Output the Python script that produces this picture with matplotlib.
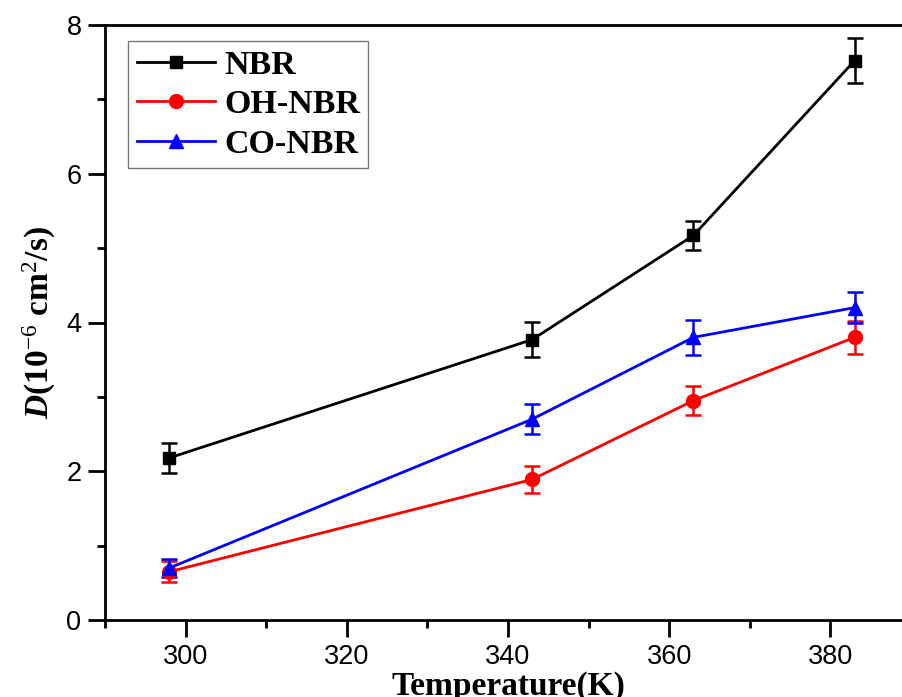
import matplotlib
matplotlib.use("Agg")
import matplotlib.pyplot as plt
from matplotlib.lines import Line2D
from matplotlib.ticker import MultipleLocator

plt.rcParams['mathtext.fontset'] = 'custom'
plt.rcParams['mathtext.rm'] = 'Liberation Serif'
plt.rcParams['mathtext.bf'] = 'Liberation Serif:bold'
plt.rcParams['mathtext.it'] = 'Liberation Serif:bold:italic'

# Diffusion coefficients vs temperature
temperature = [298, 343, 363, 383]
nbr = [2.18, 3.77, 5.17, 7.52]
nbr_err = [0.20, 0.24, 0.20, 0.30]
oh_nbr = [0.65, 1.89, 2.95, 3.80]
oh_nbr_err = [0.14, 0.18, 0.20, 0.22]
co_nbr = [0.70, 2.70, 3.80, 4.20]
co_nbr_err = [0.12, 0.20, 0.24, 0.21]

series = [
    ("NBR", nbr, nbr_err, "black", "s", 9),
    ("OH-NBR", oh_nbr, oh_nbr_err, "red", "o", 10),
    ("CO-NBR", co_nbr, co_nbr_err, "blue", "^", 10),
]

fig = plt.figure(figsize=(9.02, 6.97), dpi=100)
W, H = 902, 697
x0, x1 = 105, 911
y0, y1 = 620, 25
ax = fig.add_axes([x0 / W, 1 - y0 / H, (x1 - x0) / W, (y0 - y1) / H])

handles = []
for name, vals, errs, color, marker, ms in series:
    ax.errorbar(temperature, vals, yerr=errs, color=color, marker=marker,
                markersize=ms, linewidth=2, elinewidth=1.8, capsize=6,
                capthick=1.8)
    handles.append(Line2D([], [], color=color, marker=marker, markersize=ms,
                          linewidth=2, label=name))

ax.set_xlim(290, 390)
ax.set_ylim(0, 8)
ax.xaxis.set_major_locator(MultipleLocator(20))
ax.xaxis.set_minor_locator(MultipleLocator(10))
ax.yaxis.set_major_locator(MultipleLocator(2))
ax.yaxis.set_minor_locator(MultipleLocator(1))

for s in ax.spines.values():
    s.set_linewidth(2)
ax.spines['right'].set_visible(False)

ax.tick_params(which='both', direction='out', width=2, top=False, right=False)
ax.tick_params(which='major', length=12, pad=5)
ax.tick_params(which='minor', length=6)
for lab in ax.get_xticklabels() + ax.get_yticklabels():
    lab.set_fontfamily('Liberation Sans')
    lab.set_fontsize(19.5)

ax.set_xlabel('Temperature(K)', fontfamily='Liberation Serif',
              fontweight='bold', fontsize=24, labelpad=1)
ax.set_ylabel(r'$\mathit{D}\mathbf{(10}^{-6}\mathbf{\ cm}^{2}\mathbf{/s)}$',
              fontsize=24, labelpad=6)

leg = ax.legend(handles=handles, loc='upper left',
                bbox_to_anchor=((128 - x0) / (x1 - x0), 1 - (41 - y1) / (y0 - y1)),
                prop={'family': 'Liberation Serif', 'weight': 'bold', 'size': 24.5},
                frameon=True, fancybox=False, handlelength=2.3, labelspacing=0.25,
                borderpad=0.25, handletextpad=0.27, borderaxespad=0)
leg.get_frame().set_edgecolor('#555555')
leg.get_frame().set_linewidth(1)

fig.savefig('out.png', dpi=100)
